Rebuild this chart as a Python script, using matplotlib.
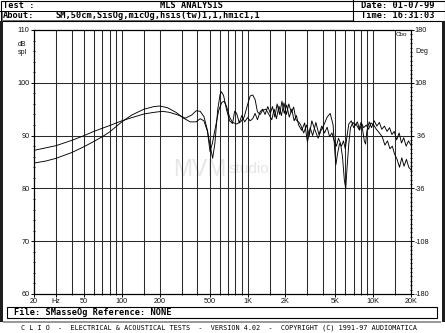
import matplotlib
matplotlib.use('Agg')
import matplotlib.pyplot as plt
from matplotlib.patches import Rectangle
from matplotlib.ticker import FixedLocator, MultipleLocator, NullFormatter

W, H = 445, 333

# ---------------- data ----------------
freq_a = [20, 25, 30, 40, 50, 60, 70, 80, 100, 120, 150, 180, 210, 240, 280, 320, 360, 390, 420, 450,
          480, 505, 528, 550, 580, 605, 620, 645, 680, 720, 760, 790, 820, 860, 900, 950, 1000, 1050, 1100, 1150,
          1200, 1260, 1320, 1380, 1450, 1520, 1580, 1650, 1720, 1800, 1880, 1960, 2050, 2150, 2250, 2350, 2450, 2550, 2700, 2850,
          3000, 3150, 3300, 3500, 3700, 3900, 4100, 4300, 4500, 4700, 4900, 5100, 5300, 5500, 5700, 5900, 6050, 6200, 6400, 6600,
          6900, 7200, 7500, 7800, 8100, 8500, 8700, 8900, 9300, 9700, 10200, 10700, 11200, 11700, 12300, 12900, 13500, 14100, 14700, 15400,
          16100, 16800, 17500, 18300, 19100, 20000]
spl_a = [87.2, 87.7, 88.1, 89.1, 90.0, 90.8, 91.4, 91.9, 92.8, 93.4, 94.1, 94.4, 94.6, 94.4, 93.9, 93.3, 93.9, 94.7, 94.6, 93.6,
         91.0, 88.0, 85.7, 88.5, 95.0, 97.8, 98.3, 97.6, 95.0, 92.8, 92.3, 94.6, 94.2, 92.4, 93.8, 92.6, 93.4, 92.8, 93.2, 94.2,
         93.0, 94.5, 95.0, 94.0, 95.5, 94.2, 95.5, 93.5, 96.0, 94.0, 96.5, 94.2, 95.8, 93.5, 95.0, 92.8, 93.8, 92.0, 91.0, 92.4,
         88.8, 91.5, 90.0, 92.5, 90.2, 91.8, 90.5, 91.6, 89.8, 90.5, 89.0, 88.0, 89.5, 88.5, 86.0, 81.5, 80.0, 84.0, 88.5, 91.5,
         92.5, 92.0, 92.6, 91.0, 92.3, 89.0, 88.4, 90.8, 92.6, 91.5, 92.8, 91.8, 92.5, 91.2, 91.8, 90.8, 91.5, 90.2, 90.8, 89.2,
         90.5, 88.6, 89.6, 88.0, 89.0, 88.2]

freq_b = [20, 25, 30, 40, 50, 60, 70, 80, 100, 120, 150, 180, 200, 230, 270, 310, 350, 390, 420, 450,
          480, 503, 525, 555, 590, 625, 650, 680, 720, 760, 820, 880, 940, 1000, 1050, 1100, 1150, 1200, 1260, 1320,
          1400, 1480, 1560, 1630, 1700, 1780, 1860, 1950, 2040, 2130, 2230, 2330, 2430, 2550, 2650, 2800, 2950, 3100, 3250, 3450,
          3650, 3850, 4050, 4300, 4550, 4800, 4950, 5050, 5200, 5400, 5600, 5800, 6000, 6200, 6400, 6700, 7000, 7300, 7700, 8000,
          8400, 8800, 9200, 9600, 10100, 10600, 11200, 11800, 12400, 13000, 13600, 14200, 14800, 15500, 16200, 16900, 17600, 18400, 19200, 20000]
spl_b = [84.8, 85.2, 85.7, 86.8, 87.9, 88.9, 89.8, 90.7, 92.6, 93.9, 95.0, 95.5, 95.6, 95.3, 94.4, 93.3, 92.6, 92.6, 93.2, 92.8,
         90.8, 87.0, 88.5, 91.5, 94.8, 96.3, 96.5, 95.6, 93.5, 92.5, 92.2, 92.6, 93.5, 95.8, 97.5, 97.7, 96.8, 94.5, 94.0, 94.8,
         95.0, 94.0, 93.0, 95.0, 93.2, 95.6, 93.8, 96.2, 94.0, 96.0, 94.4, 95.4, 93.0, 92.6, 92.0, 90.5, 92.0, 90.0, 92.8, 91.0,
         89.5, 91.0, 92.0, 93.5, 94.2, 92.0, 87.0, 84.5, 86.5, 88.5, 88.0, 89.0, 87.5, 90.0, 92.2, 92.8, 91.5, 92.2, 91.2, 92.5,
         91.5, 92.0, 91.2, 92.4, 92.0, 91.2, 90.5, 89.8, 88.2, 89.0, 87.5, 88.0, 86.5, 85.5, 84.0, 85.8, 84.2, 85.5, 84.0, 83.5]

x_ticks = [20, 30, 50, 100, 200, 500, 1000, 2000, 5000, 10000, 20000]
x_labels = ['20', 'Hz', '50', '100', '200', '500', '1K', '2K', '5K', '10K', '20K']
grid_freqs = [30, 40, 50, 60, 70, 80, 90, 100, 150, 200, 300, 400, 500, 600, 700, 800, 900,
              1000, 1500, 2000, 3000, 4000, 5000, 6000, 7000, 8000, 9000, 10000, 15000]
y_ticks = [60, 70, 80, 90, 100, 110]
phase_ticks = [-180, -108, -36, 36, 108, 180]
phase_labels = ['-180', '-108', '-36', ' 36', '108', '180']

header_title = 'MLS ANALYSIS'
header_about = 'SM,50cm,SisOg,micOg,hsis(tw)1,1,hmic1,1'
header_date = 'Date: 01-07-99'
header_time = 'Time: 16:31:03'
file_line = 'File: SMasseOg Reference: NONE'
footer = 'C L I O  -  ELECTRICAL & ACOUSTICAL TESTS  -  VERSION 4.02  -  COPYRIGHT (C) 1991-97 AUDIOMATICA'

# ---------------- figure ----------------
fig = plt.figure(figsize=(4.45, 3.33), dpi=100)
fig.patch.set_facecolor('white')

# overlay in pixel coordinates for frame / header / footer
ov = fig.add_axes([0, 0, 1, 1], zorder=0)
ov.set_xlim(0, W)
ov.set_ylim(H, 0)
ov.axis('off')

mono = dict(family='DejaVu Sans Mono', fontweight='bold', color='black')
# header boxes
ov.add_patch(Rectangle((0.5, 0.5), 444, 20, fill=False, lw=0.8, ec='black'))
ov.plot([0, 445], [10.5, 10.5], color='black', lw=0.7)
ov.plot([353, 353], [0, 20.5], color='black', lw=0.8)
ov.add_patch(Rectangle((1.5, 10.8), 351, 9.2, fill=False, lw=0.6, ec='#555555'))
ov.text(3, 5.6, 'Test :', fontsize=6.2, va='center', ha='left', **mono)
ov.text(192, 5.6, header_title, fontsize=6.2, va='center', ha='center', **mono)
ov.text(3, 15.4, 'About:', fontsize=6.2, va='center', ha='left', **mono)
ov.text(55, 15.4, header_about, fontsize=6.2, va='center', ha='left', **mono)
ov.text(361, 5.6, header_date, fontsize=6.2, va='center', ha='left', **mono)
ov.text(361, 15.4, header_time, fontsize=6.2, va='center', ha='left', **mono)

# side strips
ov.add_patch(Rectangle((0, 20.5), 3, 301, color='#1e1e1e', lw=0))
ov.add_patch(Rectangle((441.5, 20.5), 3.5, 301, color='#1e1e1e', lw=0))

# file box and footer
ov.add_patch(Rectangle((7, 307), 430, 11, fill=False, lw=0.8, ec='black'))
ov.text(14, 312.6, file_line, fontsize=6.2, va='center', ha='left', **mono)
ov.add_patch(Rectangle((3, 321), 438, 2, color='#9a9a9a', lw=0))
ov.text(219, 327.8, footer, fontsize=4.9, va='center', ha='center',
        family='DejaVu Sans Mono', color='black')

# watermark
ov.text(173, 176, 'MVM', fontsize=16.5, color='#e6e6e6', family='Liberation Sans',
        ha='left', va='baseline', zorder=0)
ov.text(229, 173, 'studio', fontsize=11, color='#e6e6e6', family='Liberation Sans',
        ha='left', va='baseline', zorder=0)

# ---------------- main axes ----------------
ax = fig.add_axes([34 / W, 1 - 294 / H, (411 - 34) / W, (294 - 30) / H], zorder=1)
ax.set_facecolor('none')
ax.set_xscale('log')
ax.set_xlim(20, 20000)
ax.set_ylim(60, 110)

for f in grid_freqs:
    ax.axvline(f, color='#2a2a2a', lw=0.75, zorder=1)
for yv in y_ticks[1:-1]:
    ax.axhline(yv, color='#2a2a2a', lw=0.75, zorder=1)

ax.plot(freq_a, spl_a, color='black', lw=0.65, zorder=3)
ax.plot(freq_b, spl_b, color='black', lw=0.65, zorder=3)

ax.xaxis.set_major_locator(FixedLocator(x_ticks))
ax.set_xticklabels(x_labels)
ax.xaxis.set_minor_locator(FixedLocator(grid_freqs))
ax.xaxis.set_minor_formatter(NullFormatter())
ax.set_yticks(y_ticks)
ax.set_yticklabels([str(v) for v in y_ticks])
ax.yaxis.set_minor_locator(MultipleLocator(2))

tick_font = 'Liberation Sans'
ax.tick_params(axis='both', which='major', labelsize=5.2, length=2, width=0.7,
               pad=1.2, color='black', labelcolor='#111111', direction='out')
ax.tick_params(axis='both', which='minor', length=1.5, width=0.6, direction='inout')
for lab in ax.get_xticklabels() + ax.get_yticklabels():
    lab.set_family(tick_font)
for sp in ax.spines.values():
    sp.set_linewidth(0.9)
    sp.set_color('black')

ax2 = ax.twinx()
ax2.set_ylim(-180, 180)
ax2.set_yticks(phase_ticks)
ax2.set_yticklabels(phase_labels)
ax2.yaxis.set_minor_locator(MultipleLocator(6))
ax2.tick_params(axis='y', which='major', labelsize=5.2, length=2, width=0.7, pad=0.8,
                direction='out', labelcolor='#111111')
ax2.tick_params(axis='y', which='minor', length=1.6, width=0.6, direction='inout')
for lab in ax2.get_yticklabels():
    lab.set_family(tick_font)
for sp in ax2.spines.values():
    sp.set_visible(False)

# axis unit labels
ov.text(18, 45, 'dB', fontsize=5, family=tick_font, va='center', ha='left', color='#111111')
ov.text(18, 52.5, 'spl', fontsize=5, family=tick_font, va='center', ha='left', color='#111111')
ov.text(415, 51.5, 'Deg', fontsize=5, family=tick_font, va='center', ha='left', color='#111111')
ov.text(396, 34, 'Cbo', fontsize=4.5, family=tick_font, va='center', ha='left', color='#111111', zorder=5)

fig.savefig('out.png', dpi=100, facecolor='white')
